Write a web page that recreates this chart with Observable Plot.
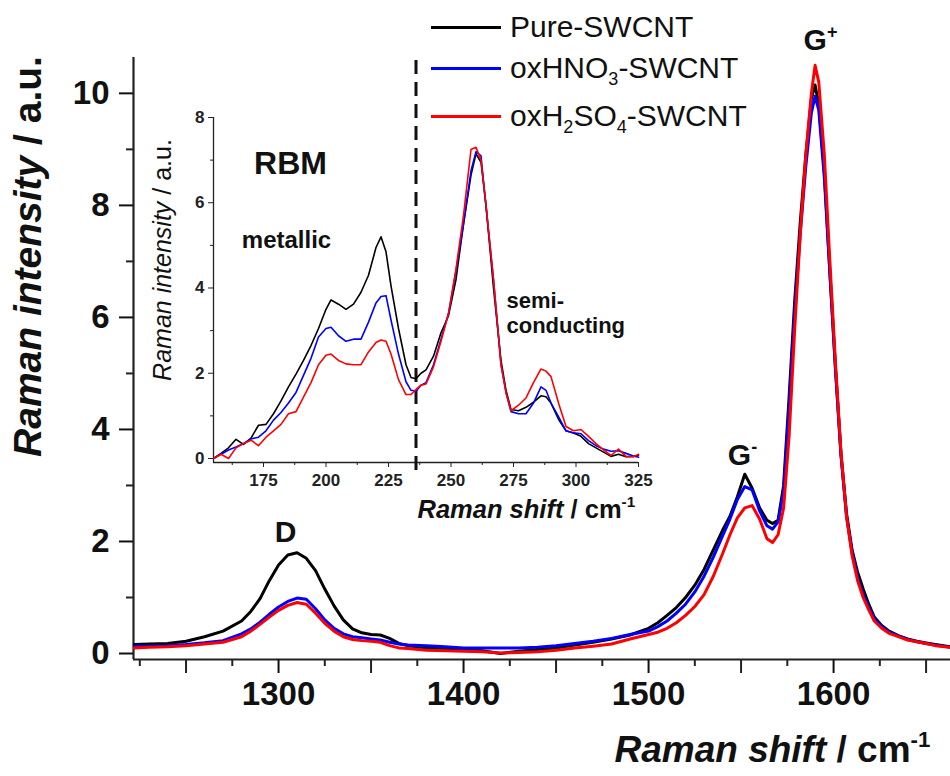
<!DOCTYPE html>
<html><head><meta charset="utf-8">
<script src="https://cdn.jsdelivr.net/npm/d3@7"></script>
<script src="https://cdn.jsdelivr.net/npm/@observablehq/plot@0.6"></script>
<style>
html,body{margin:0;padding:0;background:#fff;}
#wrap{position:relative;width:950px;height:776px;overflow:hidden;font-family:"Liberation Sans",Arial,sans-serif;}
#wrap svg{position:absolute;}
.leg{position:absolute;left:431px;height:40px;display:flex;align-items:center;font-size:30px;color:#111;white-space:nowrap;line-height:1;}
.sw{display:inline-block;width:70px;height:3px;margin-right:9px;}
.sb{font-size:0.6em;position:relative;top:0.4em;}
</style></head><body><div id="wrap"></div>
<script>
// ---------- data ----------
const seriesNames = ["Pure-SWCNT", "oxHNO3-SWCNT", "oxH2SO4-SWCNT"];
const seriesColors = ["#000000", "#0000ff", "#ff0000"];

const mainShift = [1222,1230,1240,1250,1260,1270,1280,1285,1290,1295,1300,1305,1310,1315,1320,1325,1330,1335,1340,1345,1350,1355,1360,1365,1370,1380,1390,1400,1410,1420,1430,1440,1450,1460,1470,1480,1490,1500,1505,1510,1515,1520,1525,1530,1535,1540,1544,1548,1552,1556,1560,1564,1567,1570,1573,1576,1579,1582,1585,1588,1590,1592,1595,1598,1601,1604,1607,1610,1613,1616,1619,1622,1626,1630,1635,1640,1645,1650,1655,1663];
const mainPure = [0.16,0.17,0.18,0.22,0.30,0.40,0.58,0.75,0.98,1.30,1.58,1.76,1.80,1.70,1.48,1.15,0.85,0.60,0.44,0.37,0.34,0.33,0.27,0.18,0.14,0.10,0.08,0.07,0.05,0.00,0.04,0.07,0.10,0.15,0.20,0.26,0.33,0.45,0.55,0.68,0.82,1.00,1.22,1.50,1.85,2.20,2.45,2.80,3.20,2.95,2.60,2.38,2.32,2.38,3.00,4.60,6.30,7.70,8.90,9.90,10.15,9.80,8.60,6.80,5.10,3.55,2.50,1.85,1.45,1.15,0.88,0.65,0.50,0.40,0.32,0.26,0.22,0.19,0.16,0.12];
const mainHNO3 = [0.13,0.13,0.14,0.16,0.19,0.23,0.35,0.44,0.56,0.70,0.83,0.93,0.99,0.97,0.80,0.60,0.45,0.35,0.30,0.28,0.26,0.24,0.20,0.17,0.15,0.14,0.12,0.10,0.10,0.10,0.10,0.11,0.14,0.18,0.22,0.27,0.34,0.40,0.48,0.58,0.72,0.88,1.10,1.38,1.72,2.10,2.40,2.75,2.98,2.92,2.55,2.28,2.22,2.35,2.90,4.40,6.10,7.50,8.70,9.65,9.95,9.70,8.50,6.80,5.10,3.55,2.45,1.80,1.35,1.05,0.82,0.62,0.48,0.38,0.31,0.25,0.21,0.18,0.15,0.11];
const mainH2SO4 = [0.10,0.11,0.12,0.14,0.17,0.20,0.30,0.40,0.52,0.65,0.77,0.86,0.91,0.88,0.72,0.54,0.40,0.30,0.25,0.23,0.22,0.20,0.14,0.10,0.09,0.06,0.05,0.04,0.03,0.01,0.02,0.03,0.06,0.10,0.13,0.17,0.26,0.34,0.38,0.45,0.55,0.68,0.84,1.05,1.38,1.78,2.12,2.42,2.60,2.64,2.40,2.05,1.98,2.12,2.60,3.90,5.80,7.50,8.90,10.00,10.50,10.20,8.90,7.00,5.20,3.60,2.45,1.75,1.30,1.00,0.78,0.58,0.45,0.36,0.30,0.24,0.21,0.18,0.14,0.11];

const insetShift = [155,158,161,164,167,170,173,176,179,182,185,188,191,194,197,200,202,205,208,211,214,217,220,222,224,226,229,232,234,236,238,240,243,246,249,252,255,258,260,262,264,267,270,272,274,277,280,283,286,288,290,293,296,299,302,305,308,311,314,317,320,323,325];
const insetPure = [0,0.12,0.25,0.45,0.33,0.48,0.78,0.80,1.05,1.35,1.68,1.98,2.30,2.65,3.05,3.50,3.72,3.62,3.50,3.62,3.90,4.30,4.95,5.20,4.85,4.05,3.05,2.20,1.90,1.87,2.00,2.08,2.40,2.95,3.35,4.20,5.50,6.65,7.15,6.95,5.95,4.00,2.30,1.60,1.15,1.12,1.20,1.32,1.47,1.45,1.30,0.92,0.65,0.60,0.52,0.35,0.25,0.15,0.05,0.10,0.04,0.05,0.07];
const insetHNO3 = [0,0.10,0.20,0.27,0.35,0.46,0.50,0.65,0.90,1.08,1.30,1.55,1.95,2.35,2.85,3.05,3.08,2.88,2.75,2.80,2.80,3.20,3.65,3.80,3.82,3.25,2.45,1.80,1.60,1.58,1.72,1.78,2.20,2.80,3.40,4.40,5.50,6.75,7.20,7.10,5.90,4.20,2.20,1.55,1.10,1.05,1.05,1.30,1.68,1.60,1.30,0.98,0.65,0.60,0.58,0.42,0.30,0.22,0.17,0.18,0.12,0.06,0.03];
const insetH2SO4 = [0,0.10,0.00,0.25,0.35,0.43,0.30,0.50,0.65,0.80,1.05,1.10,1.44,1.78,2.20,2.42,2.45,2.30,2.22,2.20,2.20,2.50,2.72,2.78,2.75,2.45,1.85,1.50,1.50,1.62,1.72,1.75,2.15,2.75,3.40,4.45,5.70,7.25,7.30,7.00,5.95,4.20,2.20,1.55,1.12,1.25,1.42,1.78,2.10,2.05,1.92,1.30,0.75,0.65,0.68,0.52,0.35,0.20,0.07,0.22,0.05,0.04,0.10];

const mainXLabelTicks = [1300,1400,1500,1600];
const mainXMajorTicks = [1250,1350,1450,1550,1650];
const mainXMinorTicks = [1225,1275,1325,1375,1425,1475,1525,1575,1625];
const mainYTicks = [0,2,4,6,8,10];
const mainYMinorTicks = [1,3,5,7,9];
const insetXTicks = [175,200,225,250,275,300,325];
const insetXMinorTicks = [162.5,187.5,212.5,237.5,262.5,287.5,312.5];
const insetYTicks = [0,2,4,6,8];
const insetYMinorTicks = [1,3,5,7];
const rbmBoundary = 236;

// ---------- helpers ----------
const FONT = "'Liberation Sans', Arial, sans-serif";
const plain = d => String(d);
function rows(xs, arrays) {
  return seriesNames.flatMap((s, k) => xs.map((x, i) => ({series: s, shift: x, value: arrays[k][i]})));
}
function richify(svg, text, parts, fs) {
  d3.select(svg).selectAll("text").filter(function () { return this.textContent === text; }).each(function () {
    const el = d3.select(this);
    el.text(null);
    let shift = 0;
    for (const p of parts) {
      const ts = el.append("tspan").text(p.t);
      if (p.italic) ts.attr("font-style", "italic");
      const target = p.sup ? -0.42 * fs : p.sub ? 0.25 * fs : 0;
      if (target !== shift) { ts.attr("dy", target - shift); shift = target; }
      if (p.sup || p.sub) ts.attr("font-size", 0.6 * fs);
    }
  });
}
const label = (t, o) => Plot.text([t], {text: d => d, fill: "#111", lineAnchor: "middle", textAnchor: "middle", ...o});

const wrap = document.getElementById("wrap");

// ---------- main chart ----------
const xDom = [1221.6, 1663.2];
const yDom = [-0.107, 10.64];
const mainSvg = Plot.plot({
  width: 950, height: 776,
  marginLeft: 133, marginRight: 0, marginTop: 57, marginBottom: 117,
  style: {fontFamily: FONT, background: "#fff", color: "#111", overflow: "visible"},
  x: {domain: xDom},
  y: {domain: yDom},
  color: {domain: seriesNames, range: seriesColors},
  marks: [
    Plot.ruleX([xDom[0]], {stroke: "#222", strokeWidth: 2.2}),
    Plot.ruleY([yDom[0]], {stroke: "#222", strokeWidth: 2.2}),
    Plot.axisY({ticks: mainYTicks, tickSize: 14, tickPadding: 10, tickFormat: plain, fontSize: 33, fontWeight: "bold", label: null, color: "#111", strokeWidth: 2}),
    Plot.axisY({ticks: mainYMinorTicks, tickSize: 7, tickFormat: () => "", label: null, color: "#222", strokeWidth: 2}),
    Plot.axisX({ticks: mainXLabelTicks, tickSize: 14, tickPadding: 8, tickFormat: plain, fontSize: 33, fontWeight: "bold", label: null, color: "#111", strokeWidth: 2}),
    Plot.axisX({ticks: mainXMajorTicks, tickSize: 14, tickFormat: () => "", label: null, color: "#222", strokeWidth: 2}),
    Plot.axisX({ticks: mainXMinorTicks, tickSize: 7, tickFormat: () => "", label: null, color: "#222", strokeWidth: 2}),
    Plot.lineY(rows(mainShift, [mainPure, mainHNO3, mainH2SO4]), {x: "shift", y: "value", z: "series", stroke: "series", strokeWidth: 3, strokeLinejoin: "round"}),
    label("Raman intensity / a.u.", {frameAnchor: "left", dx: -105, dy: -102, rotate: -90, fontSize: 39, fontWeight: "bold"}),
    label("Raman shift / cm-1", {frameAnchor: "bottom-left", dx: 481, dy: 91, fontSize: 37, fontWeight: "bold", textAnchor: "start"}),
    label("D", {frameAnchor: "top-left", dx: 152, dy: 475, fontSize: 30, fontWeight: "bold"}),
    label("G-", {frameAnchor: "top-left", dx: 609, dy: 398, fontSize: 30, fontWeight: "bold"}),
    label("G+", {frameAnchor: "top-left", dx: 687, dy: -17, fontSize: 30, fontWeight: "bold"})
  ]
});
richify(mainSvg, "Raman intensity / a.u.", [{t: "Raman intensity", italic: true}, {t: " / a.u."}], 39);
richify(mainSvg, "Raman shift / cm-1", [{t: "Raman shift", italic: true}, {t: " / cm"}, {t: "-1", sup: true}], 37);
richify(mainSvg, "G-", [{t: "G"}, {t: "-", sup: true}], 30);
richify(mainSvg, "G+", [{t: "G"}, {t: "+", sup: true}], 30);
mainSvg.style.left = "0px"; mainSvg.style.top = "0px";
wrap.appendChild(mainSvg);

// ---------- inset chart ----------
const ixDom = [155, 325];
const iyDom = [-0.094, 8];
const insetSvg = Plot.plot({
  width: 520, height: 465,
  marginLeft: 73, marginRight: 22, marginTop: 77, marginBottom: 43,
  style: {fontFamily: FONT, background: "transparent", color: "#111", overflow: "visible"},
  x: {domain: ixDom},
  y: {domain: iyDom},
  color: {domain: seriesNames, range: seriesColors},
  marks: [
    Plot.ruleX([ixDom[0]], {stroke: "#222", strokeWidth: 1.3}),
    Plot.ruleY([iyDom[0]], {stroke: "#222", strokeWidth: 1.3}),
    Plot.axisY({ticks: insetYTicks, tickSize: 5, tickPadding: 4, tickFormat: plain, fontSize: 17, fontWeight: "bold", label: null, color: "#222"}),
    Plot.axisY({ticks: insetYMinorTicks, tickSize: 3, tickFormat: () => "", label: null, color: "#222"}),
    Plot.axisX({ticks: insetXTicks, tickSize: 5, tickPadding: 6, tickFormat: plain, fontSize: 17, fontWeight: "bold", label: null, color: "#222"}),
    Plot.axisX({ticks: insetXMinorTicks, tickSize: 3, tickFormat: () => "", label: null, color: "#222"}),
    Plot.ruleX([rbmBoundary], {y1: -0.28, y2: 9.45, stroke: "#111", strokeWidth: 3, strokeDasharray: "14,8", clip: false}),
    Plot.lineY(rows(insetShift, [insetPure, insetHNO3, insetH2SO4]), {x: "shift", y: "value", z: "series", stroke: "series", strokeWidth: 1.6}),
    label("Raman intensity / a.u.", {frameAnchor: "left", dx: -51, dy: -30, rotate: -90, fontSize: 25}),
    label("Raman shift / cm-1", {frameAnchor: "bottom-left", dx: 204, dy: 47, fontSize: 25.5, fontWeight: "bold", textAnchor: "start"}),
    label("RBM", {frameAnchor: "top-left", dx: 77, dy: 46, fontSize: 32, fontWeight: "bold"}),
    label("metallic", {frameAnchor: "top-left", dx: 73, dy: 123, fontSize: 24, fontWeight: "bold"}),
    label("semi-", {frameAnchor: "top-left", dx: 293, dy: 183, fontSize: 22, fontWeight: "bold", textAnchor: "start"}),
    label("conducting", {frameAnchor: "top-left", dx: 293, dy: 208, fontSize: 22, fontWeight: "bold", textAnchor: "start"})
  ]
});
richify(insetSvg, "Raman intensity / a.u.", [{t: "Raman intensity", italic: true}, {t: " / a.u."}], 25);
richify(insetSvg, "Raman shift / cm-1", [{t: "Raman shift", italic: true}, {t: " / cm"}, {t: "-1", sup: true}], 25.5);
insetSvg.style.left = "140px"; insetSvg.style.top = "40px";
wrap.appendChild(insetSvg);

// ---------- legend ----------
const legendRows = [
  {html: "Pure-SWCNT", cy: 27},
  {html: "oxHNO<span class='sb'>3</span>-SWCNT", cy: 68},
  {html: "oxH<span class='sb'>2</span>SO<span class='sb'>4</span>-SWCNT", cy: 116}
];
legendRows.forEach((r, k) => {
  const div = document.createElement("div");
  div.className = "leg";
  div.style.top = (r.cy - 20) + "px";
  div.innerHTML = `<span class="sw" style="background:${seriesColors[k]}"></span><span>${r.html}</span>`;
  wrap.appendChild(div);
});
</script></body></html>
